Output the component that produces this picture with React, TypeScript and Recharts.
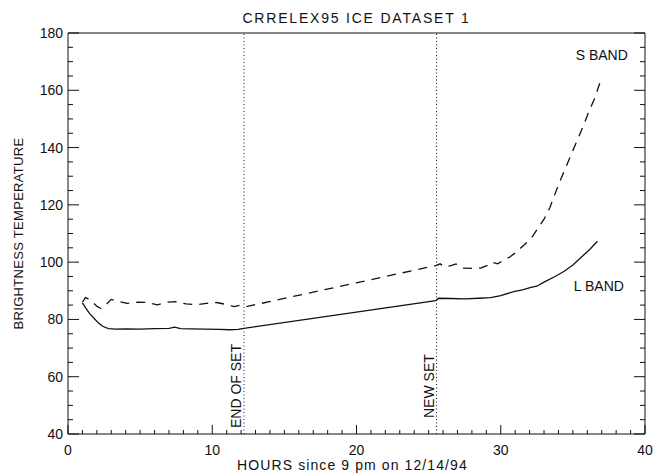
import React from "react";
import { LineChart, Line, XAxis, YAxis, ReferenceLine, ReferenceDot } from "recharts";

const TITLE = "CRRELEX95 ICE DATASET 1";
const X_LABEL = "HOURS since 9 pm on 12/14/94";
const Y_LABEL = "BRIGHTNESS TEMPERATURE";

const X_MAJOR = [0, 10, 20, 30, 40];
const Y_MAJOR = [40, 60, 80, 100, 120, 140, 160, 180];
const X_TICKS = Array.from({ length: 41 }, (_, i) => i);
const Y_TICKS = Array.from({ length: 29 }, (_, i) => 40 + i * 5);

const END_OF_SET_X = 12.2;
const NEW_SET_X = 25.55;

const L_X = [1.0, 1.2, 1.5, 1.8, 2.1, 2.4, 2.8, 3.3, 4.0, 5.0, 6.0, 7.0, 7.4, 7.8, 8.5, 9.5, 10.5, 11.2, 11.8, 12.2, 25.5, 25.7, 26.5, 27.5, 28.5, 29.3, 30.0, 30.9, 31.5, 32.1, 32.5, 33.0, 33.7, 34.4, 35.0, 35.6, 36.2, 36.7];
const L_Y = [85.8, 84.2, 82.0, 80.4, 78.8, 77.6, 76.8, 76.6, 76.7, 76.6, 76.8, 76.9, 77.3, 76.8, 76.7, 76.6, 76.5, 76.4, 76.5, 76.9, 86.6, 87.4, 87.3, 87.2, 87.4, 87.6, 88.3, 89.7, 90.3, 91.2, 91.6, 93.0, 94.8, 96.8, 99.0, 101.8, 104.6, 107.3];

const S_X = [1.0, 1.2, 1.4, 1.75, 2.0, 2.3, 2.6, 3.0, 3.4, 4.1, 4.8, 5.5, 6.2, 6.8, 7.5, 8.2, 8.9, 9.6, 10.3, 11.0, 11.5, 11.9, 12.3, 25.5, 25.8, 26.1, 26.6, 26.9, 27.4, 28.0, 28.6, 29.1, 29.4, 29.8, 30.3, 30.6, 31.0, 31.4, 31.9, 32.2, 32.6, 33.0, 33.4, 34.0, 34.5, 35.0, 35.4, 35.8, 36.1, 36.5, 36.9];
const S_Y = [86.0, 87.6, 87.2, 85.8, 84.6, 83.8, 85.0, 87.0, 86.4, 85.6, 86.0, 85.9, 85.1, 86.0, 86.2, 85.4, 85.1, 85.6, 85.9, 85.2, 84.5, 84.9, 84.4, 98.8, 99.4, 98.3, 98.9, 99.4, 97.9, 97.8, 97.9, 98.9, 100.0, 99.4, 101.0, 101.7, 103.2, 105.0, 107.3, 109.0, 112.0, 115.0, 119.0, 127.0, 133.0, 139.0, 143.7, 148.5, 152.5, 157.0, 163.0];

const lData = L_X.map((x, i) => ({ x, y: L_Y[i] }));
const sData = S_X.map((x, i) => ({ x, y: S_Y[i] }));

const FONT = "'Liberation Sans', Arial, sans-serif";
const INK = "#111";

const BottomTick = (p: any) => {
  const v = p.payload.value;
  const major = X_MAJOR.includes(v);
  return (
    <g>
      <line x1={p.x} x2={p.x} y1={p.y} y2={p.y - (major ? 9 : 4)} stroke={INK} strokeWidth={1} />
      {major && (
        <text x={p.x} y={p.y + 21} textAnchor="middle" fontFamily={FONT} fontSize={14} fill={INK}>
          {v}
        </text>
      )}
    </g>
  );
};

const TopTick = (p: any) => {
  const v = p.payload.value;
  const major = X_MAJOR.includes(v);
  return <line x1={p.x} x2={p.x} y1={p.y} y2={p.y + (major ? 9 : 4)} stroke={INK} strokeWidth={1} />;
};

const LeftTick = (p: any) => {
  const v = p.payload.value;
  const major = Y_MAJOR.includes(v);
  return (
    <g>
      <line x1={p.x} x2={p.x + (major ? 11 : 5)} y1={p.y} y2={p.y} stroke={INK} strokeWidth={1} />
      {major && (
        <text x={p.x - 5} y={p.y + 5} textAnchor="end" fontFamily={FONT} fontSize={14} fill={INK}>
          {v}
        </text>
      )}
    </g>
  );
};

const RightTick = (p: any) => {
  const v = p.payload.value;
  const major = Y_MAJOR.includes(v);
  return <line x1={p.x} x2={p.x - (major ? 11 : 5)} y1={p.y} y2={p.y} stroke={INK} strokeWidth={1} />;
};

const vLineLabel = (text: string, lift: number) => (props: any) => {
  const vb = props.viewBox;
  const x = vb.x - 2.5;
  const y = vb.y + vb.height - lift;
  return (
    <text x={x} y={y} transform={`rotate(-90 ${x} ${y})`} textAnchor="start" fontFamily={FONT} fontSize={14} fill={INK}>
      {text}
    </text>
  );
};

const TitleLabel = (props: any) => {
  const vb = props.viewBox;
  return (
    <text x={vb.x + vb.width / 2} y={vb.y - 9} textAnchor="middle" fontFamily={FONT} fontSize={14} letterSpacing={1.8} fill={INK}>
      {TITLE}
    </text>
  );
};

const XTitle = (props: any) => {
  const vb = props.viewBox;
  return (
    <text x={vb.x + vb.width / 2 - 4} y={vb.y + 36} textAnchor="middle" fontFamily={FONT} fontSize={14} letterSpacing={1.1} fill={INK}>
      {X_LABEL}
    </text>
  );
};

const YTitle = (props: any) => {
  const vb = props.viewBox;
  const x = vb.x + vb.width - 45;
  const y = vb.y + vb.height / 2;
  return (
    <text x={x} y={y} transform={`rotate(-90 ${x} ${y})`} textAnchor="middle" fontFamily={FONT} fontSize={13} letterSpacing={0.3} fill={INK}>
      {Y_LABEL}
    </text>
  );
};

const bandLabel = (text: string) => (props: any) => {
  const vb = props.viewBox;
  return (
    <text x={vb.x + vb.width / 2} y={vb.y + vb.height / 2 + 5} textAnchor="middle" fontFamily={FONT} fontSize={14} fill={INK}>
      {text}
    </text>
  );
};

export default function App() {
  return (
    <div style={{ position: "absolute", left: 0, top: 0, background: "#fff" }}>
      <LineChart width={662} height={476} margin={{ top: 32, right: 16, bottom: 41, left: 67 }}>
        <XAxis
          xAxisId="b"
          dataKey="x"
          type="number"
          domain={[0, 40]}
          ticks={X_TICKS}
          interval={0}
          orientation="bottom"
          height={1}
          tickSize={0}
          tickMargin={0}
          tickLine={false}
          tick={BottomTick}
          axisLine={{ stroke: INK, strokeWidth: 1 }}
          allowDataOverflow
          label={<XTitle />}
        />
        <XAxis
          xAxisId="t"
          type="number"
          domain={[0, 40]}
          ticks={X_TICKS}
          interval={0}
          orientation="top"
          height={1}
          tickSize={0}
          tickMargin={0}
          tickLine={false}
          tick={TopTick}
          axisLine={{ stroke: INK, strokeWidth: 1 }}
          allowDataOverflow
          label={<TitleLabel />}
        />
        <YAxis
          yAxisId="l"
          type="number"
          domain={[40, 180]}
          ticks={Y_TICKS}
          interval={0}
          orientation="left"
          width={1}
          tickSize={0}
          tickMargin={0}
          tickLine={false}
          tick={LeftTick}
          axisLine={{ stroke: INK, strokeWidth: 1 }}
          allowDataOverflow
          label={<YTitle />}
        />
        <YAxis
          yAxisId="r"
          type="number"
          domain={[40, 180]}
          ticks={Y_TICKS}
          interval={0}
          orientation="right"
          width={1}
          tickSize={0}
          tickMargin={0}
          tickLine={false}
          tick={RightTick}
          axisLine={{ stroke: INK, strokeWidth: 1 }}
          allowDataOverflow
        />
        <ReferenceLine
          xAxisId="b"
          yAxisId="l"
          x={END_OF_SET_X}
          stroke={INK}
          strokeWidth={1}
          strokeDasharray="1 2.5"
          label={vLineLabel("END OF SET", 6)}
        />
        <ReferenceLine
          xAxisId="b"
          yAxisId="l"
          x={NEW_SET_X}
          stroke={INK}
          strokeWidth={1}
          strokeDasharray="1 2.5"
          label={vLineLabel("NEW SET", 16)}
        />
        <Line
          xAxisId="b"
          yAxisId="l"
          data={sData}
          dataKey="y"
          type="linear"
          stroke={INK}
          strokeWidth={1.3}
          strokeDasharray="9 7"
          dot={false}
          isAnimationActive={false}
        />
        <Line
          xAxisId="b"
          yAxisId="l"
          data={lData}
          dataKey="y"
          type="linear"
          stroke={INK}
          strokeWidth={1.3}
          dot={false}
          isAnimationActive={false}
        />
        <ReferenceDot xAxisId="b" yAxisId="l" x={37.0} y={172.3} r={1} fill="none" stroke="none" label={bandLabel("S BAND")} />
        <ReferenceDot xAxisId="b" yAxisId="l" x={36.8} y={91.8} r={1} fill="none" stroke="none" label={bandLabel("L BAND")} />
      </LineChart>
    </div>
  );
}
